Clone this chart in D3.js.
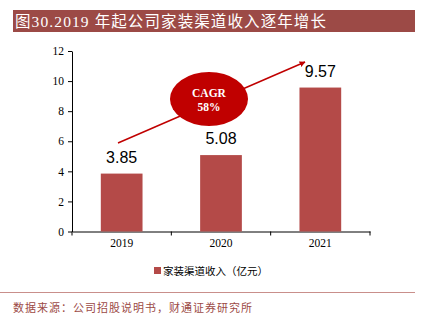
<!DOCTYPE html>
<html>
<head>
<meta charset="utf-8">
<script src="https://cdn.jsdelivr.net/npm/d3@7"></script>
<style>
  body { margin: 0; background: #fff; }
  svg { display: block; }
</style>
</head>
<body>
<div id="chart"></div>
<script>
// revenue of the home-decoration channel, 100 million yuan
let years = ["2019", "2020", "2021"];
let revenue = [3.85, 5.08, 9.57];
let yTicks = [0, 2, 4, 6, 8, 10, 12];
let seriesName = "家装渠道收入（亿元）";
let titleText = "图30.2019 年起公司家装渠道收入逐年增长";
let sourceText = "数据来源：公司招股说明书，财通证券研究所";
let cagrLines = ["CAGR", "58%"];

let width = 426, height = 323;
let margin = {top: 51, right: 56, bottom: 91.5, left: 72};

let svg = d3.select("#chart").append("svg")
    .attr("width", width)
    .attr("height", height);

// title band
svg.append("rect")
    .attr("x", 13).attr("y", 10)
    .attr("width", 402).attr("height", 22)
    .attr("fill", "#9c4a46");
svg.append("text")
    .attr("x", 15).attr("y", 27)
    .attr("fill", "#fff")
    .style("font-family", "'Liberation Serif', 'Noto Sans CJK SC', serif")
    .style("font-size", "15.5px")
    .style("letter-spacing", "1.1px")
    .text(titleText);

let x = d3.scaleBand()
    .domain(years)
    .range([margin.left, width - margin.right])
    .paddingInner(0.58)
    .paddingOuter(0.29);

let y = d3.scaleLinear()
    .domain([0, 12])
    .range([height - margin.bottom, margin.top]);

let g = svg.append("g");

// y axis
let yAxis = g.append("g")
    .attr("transform", `translate(${margin.left},0)`)
    .call(d3.axisLeft(y).tickValues(yTicks).tickSize(4).tickSizeOuter(0));
yAxis.selectAll("text")
    .style("font-family", "'Liberation Serif', serif")
    .style("font-size", "11.5px")
    .attr("fill", "#000")
    .attr("x", -8);

// x axis, ticks at category edges
let xAxis = g.append("g")
    .attr("transform", `translate(0,${y(0)})`)
    .call(d3.axisBottom(x).tickSize(0).tickSizeOuter(0));
xAxis.selectAll("text")
    .style("font-family", "'Liberation Serif', serif")
    .style("font-size", "11.5px")
    .attr("fill", "#000")
    .attr("dy", "1.1em");
let edges = d3.range(years.length + 1).map(i => margin.left + i * (width - margin.right - margin.left) / years.length);
xAxis.selectAll(".edge")
    .data(edges)
    .join("line")
    .attr("class", "edge")
    .attr("x1", d => d).attr("x2", d => d)
    .attr("y1", 0).attr("y2", 4)
    .attr("stroke", "#000");

svg.selectAll(".domain").attr("stroke", "#000");
svg.selectAll(".tick line").attr("stroke", "#000");

// bars
g.selectAll(".bar")
    .data(revenue)
    .join("rect")
    .attr("class", "bar")
    .attr("x", (d, i) => x(years[i]))
    .attr("y", d => y(d))
    .attr("width", x.bandwidth())
    .attr("height", d => y(0) - y(d))
    .attr("fill", "#b44a48");

g.selectAll(".val")
    .data(revenue)
    .join("text")
    .attr("class", "val")
    .attr("x", (d, i) => x(years[i]) + x.bandwidth() / 2)
    .attr("y", d => y(d) - 11)
    .attr("text-anchor", "middle")
    .style("font-family", "'Liberation Sans', Arial, sans-serif")
    .style("font-size", "16px")
    .attr("fill", "#000")
    .text(d => d.toFixed(2));

// growth arrow
svg.append("defs").append("marker")
    .attr("id", "head")
    .attr("viewBox", "0 0 10 10")
    .attr("refX", 9).attr("refY", 5)
    .attr("markerWidth", 6).attr("markerHeight", 6)
    .attr("markerUnits", "userSpaceOnUse")
    .attr("orient", "auto")
    .append("path")
    .attr("d", "M0,0 L10,5 L0,10 Z")
    .attr("fill", "#c00000");
svg.append("line")
    .attr("x1", 118).attr("y1", 143)
    .attr("x2", 305).attr("y2", 62)
    .attr("stroke", "#c00000")
    .attr("stroke-width", 1.5)
    .attr("marker-end", "url(#head)");

svg.append("ellipse")
    .attr("cx", 209).attr("cy", 99)
    .attr("rx", 39).attr("ry", 27)
    .attr("fill", "#c00000");
svg.selectAll(".cagr")
    .data(cagrLines)
    .join("text")
    .attr("class", "cagr")
    .attr("x", 209)
    .attr("y", (d, i) => 97 + i * 14)
    .attr("text-anchor", "middle")
    .attr("fill", "#fff")
    .style("font-family", "'Liberation Serif', serif")
    .style("font-weight", "bold")
    .style("font-size", "11.5px")
    .text(d => d);

// legend
svg.append("rect")
    .attr("x", 154).attr("y", 267)
    .attr("width", 7).attr("height", 7)
    .attr("fill", "#b44a48");
svg.append("text")
    .attr("x", 163).attr("y", 274.5)
    .style("font-family", "'Noto Sans CJK SC', sans-serif")
    .style("font-size", "10.5px")
    .attr("fill", "#000")
    .text(seriesName);

// footer
svg.append("line")
    .attr("x1", 0).attr("x2", 415)
    .attr("y1", 292.5).attr("y2", 292.5)
    .attr("stroke", "#c98f8b")
    .attr("stroke-width", 1);
svg.append("text")
    .attr("x", 13).attr("y", 312)
    .style("font-family", "'Noto Sans CJK SC', sans-serif")
    .style("font-size", "11px")
    .style("letter-spacing", "1px")
    .attr("fill", "#9c4a46")
    .text(sourceText);
</script>
</body>
</html>
